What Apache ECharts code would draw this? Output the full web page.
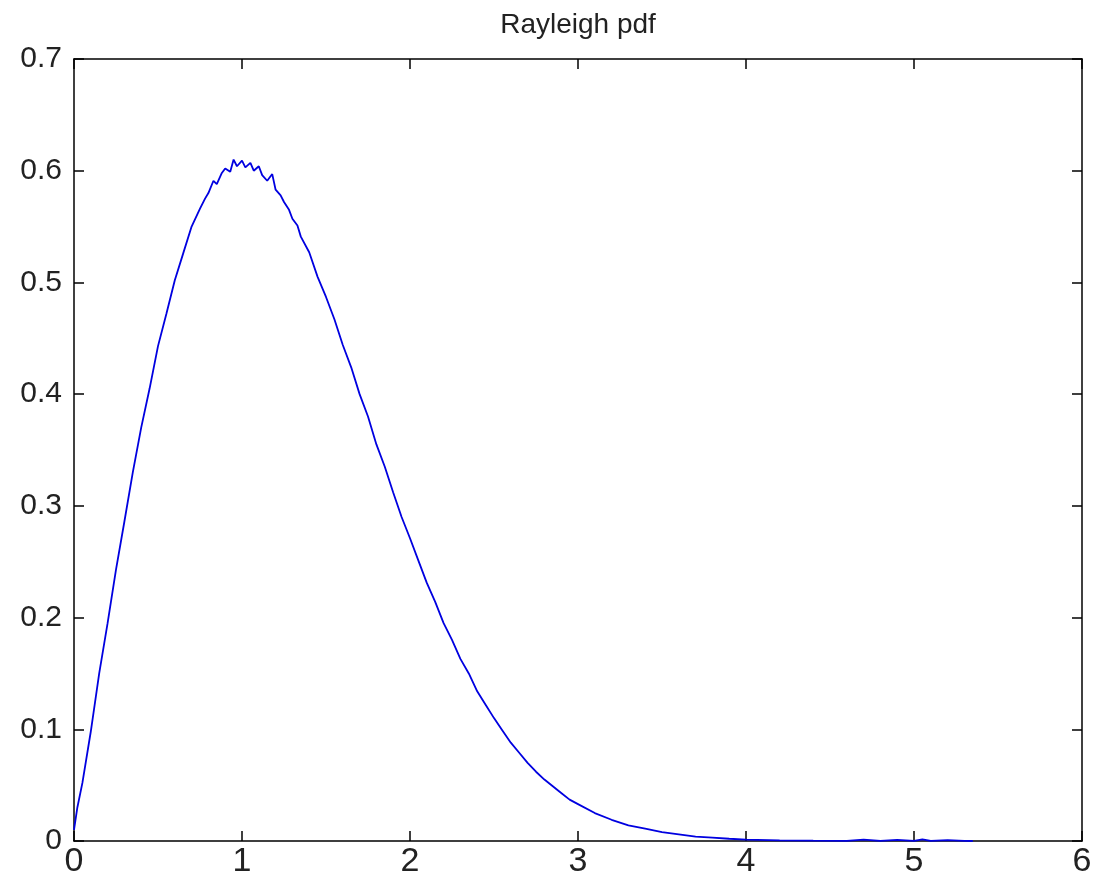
<!DOCTYPE html>
<html>
<head>
<meta charset="utf-8">
<script src="https://cdn.jsdelivr.net/npm/echarts@6/dist/echarts.min.js"></script>
<style>
html,body{margin:0;padding:0;background:#fff;}
#chart{width:1112px;height:880px;}
</style>
</head>
<body>
<div id="chart"></div>
<script>
const titleText = 'Rayleigh pdf';
const xTicks = [0, 1, 2, 3, 4, 5, 6];
const yTicks = [0, 0.1, 0.2, 0.3, 0.4, 0.5, 0.6, 0.7];
const xValues = [
  0.00, 0.02, 0.05, 0.10, 0.15, 0.20, 0.25, 0.30, 0.35, 0.40, 0.45, 0.50,
  0.55, 0.60, 0.65, 0.70, 0.75, 0.78, 0.80, 0.83, 0.85, 0.88, 0.90, 0.93,
  0.95, 0.97, 1.00, 1.02, 1.05, 1.07, 1.10, 1.12, 1.15, 1.18, 1.20, 1.23,
  1.25, 1.28, 1.30, 1.33, 1.35, 1.40, 1.45, 1.50, 1.55, 1.60, 1.65, 1.70,
  1.75, 1.80, 1.85, 1.90, 1.95, 2.00, 2.05, 2.10, 2.15, 2.20, 2.25, 2.30,
  2.35, 2.40, 2.45, 2.50, 2.55, 2.60, 2.65, 2.70, 2.75, 2.80, 2.85, 2.90,
  2.95, 3.00, 3.10, 3.20, 3.30, 3.40, 3.50, 3.60, 3.70, 3.80, 3.90, 4.00,
  4.20, 4.40, 4.60, 4.70, 4.80, 4.90, 5.00, 5.05, 5.10, 5.20, 5.30, 5.35
];
const yValues = [
  0.010, 0.030, 0.052, 0.098, 0.150, 0.195, 0.243, 0.286, 0.330, 0.370, 0.405, 0.443,
  0.472, 0.502, 0.526, 0.550, 0.566, 0.575, 0.580, 0.591, 0.588, 0.598, 0.602, 0.599,
  0.610, 0.604, 0.609, 0.603, 0.607, 0.600, 0.604, 0.596, 0.591, 0.597, 0.583, 0.578,
  0.572, 0.565, 0.557, 0.551, 0.541, 0.527, 0.505, 0.487, 0.467, 0.444, 0.424, 0.400,
  0.380, 0.355, 0.335, 0.312, 0.290, 0.271, 0.251, 0.231, 0.214, 0.195, 0.180, 0.163,
  0.150, 0.134, 0.122, 0.110, 0.099, 0.088, 0.079, 0.070, 0.062, 0.055, 0.049, 0.043,
  0.037, 0.033, 0.025, 0.019, 0.014, 0.011, 0.008, 0.006, 0.004, 0.003, 0.002, 0.0013,
  0.0006, 0.0003, 0.0002, 0.0012, 0.0001, 0.0010, 0.0002, 0.0015, 0.0001, 0.0008, 0.0001, 0.0000
];

const seriesData = xValues.map((x, i) => [x, yValues[i]]);
const font = '"Liberation Sans", Arial, sans-serif';
const axisLine = {show: true, onZero: false, lineStyle: {color: '#000', width: 1.5}};
const tick = {show: true, inside: true, length: 10, lineStyle: {color: '#000', width: 1.5}};

const chart = echarts.init(document.getElementById('chart'), null, {renderer: 'canvas'});
chart.setOption({
  animation: false,
  backgroundColor: '#fff',
  title: {
    text: titleText, left: 573, top: 6, textAlign: 'center',
    textStyle: {fontFamily: font, fontSize: 28, fontWeight: 'normal', color: '#222'}
  },
  grid: {left: 74, right: 30, top: 59, bottom: 39},
  xAxis: [
    {type: 'value', min: xTicks[0], max: xTicks[xTicks.length - 1], interval: 1, position: 'bottom',
     axisLine, axisTick: tick, splitLine: {show: false},
     axisLabel: {margin: 4, fontFamily: font, fontSize: 34, color: '#222'}},
    {type: 'value', min: xTicks[0], max: xTicks[xTicks.length - 1], interval: 1, position: 'top',
     axisLine, axisTick: tick, splitLine: {show: false}, axisLabel: {show: false}}
  ],
  yAxis: [
    {type: 'value', min: yTicks[0], max: yTicks[yTicks.length - 1], interval: 0.1, position: 'left',
     axisLine, axisTick: tick, splitLine: {show: false},
     axisLabel: {margin: 12, fontFamily: font, fontSize: 30, color: '#222',
       formatter: v => (v === 0 ? '0' : v.toFixed(1))}},
    {type: 'value', min: yTicks[0], max: yTicks[yTicks.length - 1], interval: 0.1, position: 'right',
     axisLine, axisTick: tick, splitLine: {show: false}, axisLabel: {show: false}}
  ],
  series: [{
    type: 'line', data: seriesData, showSymbol: false, symbol: 'none',
    lineStyle: {color: '#0000e0', width: 1.8}, z: 1
  }]
});
</script>
</body>
</html>
